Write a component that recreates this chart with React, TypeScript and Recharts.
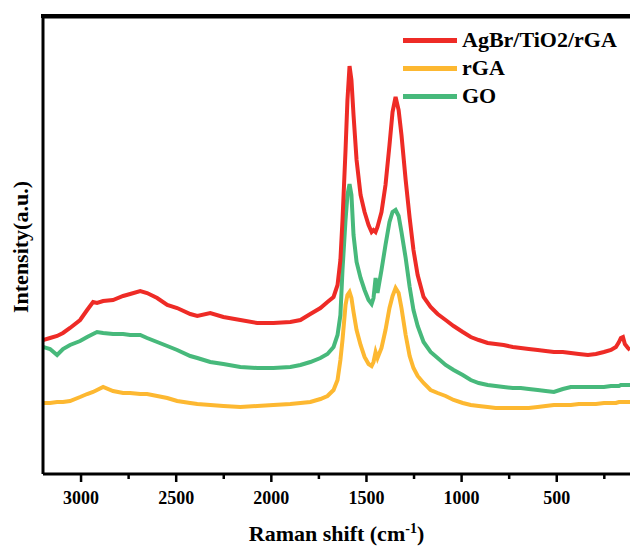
import React from 'react'
import { LineChart, Line, XAxis, YAxis, Legend, Label, ReferenceLine } from 'recharts'

// Raman shift (cm-1) sampled along the trace
const shifts = [
  3200, 3163, 3126, 3095, 3058, 3005, 2968, 2937, 2916, 2884, 2832, 2779, 2742, 2689, 2653,
  2600, 2547, 2495, 2426, 2389, 2321, 2252, 2163, 2074, 1989, 1900, 1847, 1795, 1742, 1705,
  1673, 1652, 1637, 1626, 1610, 1600, 1589, 1579, 1568, 1552, 1531, 1510, 1489, 1473, 1463,
  1452, 1442, 1421, 1400, 1379, 1363, 1347, 1331, 1316, 1294, 1273, 1253, 1231, 1200, 1163,
  1126, 1084, 1042, 994, 952, 910, 863, 821, 779, 731, 689, 647, 600, 558, 515,
  468, 426, 384, 336, 294, 252, 215, 189, 173, 163, 152, 142, 126, 115,
]

// intensities (a.u.)
const agbrTio2Rga = [
  134, 136, 138, 141, 146, 154, 164, 172, 171, 173, 174, 178, 180, 183, 181,
  176, 169, 166, 160, 158, 161, 157, 154, 151, 151, 152, 154, 160, 166, 172,
  177, 189, 214, 254, 324, 374, 408, 394, 359, 314, 279, 262, 249, 242, 244,
  242, 247, 262, 289, 329, 362, 377, 364, 339, 294, 256, 224, 199, 177, 167,
  160, 154, 148, 142, 137, 134, 131, 130, 129, 127, 126, 125, 124, 123, 122,
  122, 121, 120, 119, 120, 122, 124, 127, 132, 136, 137, 130, 126, 124,
]

const rga = [
  71, 71, 72, 72, 73, 77, 80, 82, 84, 87, 83, 81, 81, 80, 80,
  78, 76, 73, 71, 70, 69, 68, 67, 68, 69, 70, 71, 72, 75, 78,
  84, 94, 114, 134, 169, 179, 182, 176, 162, 144, 129, 117, 110, 108, 112,
  122, 116, 126, 144, 166, 178, 186, 181, 166, 139, 118, 106, 98, 91, 84,
  81, 78, 74, 71, 69, 68, 67, 66, 66, 66, 66, 66, 67, 68, 69,
  69, 69, 70, 70, 70, 71, 71, 71, 72, 72, 72, 72, 72, 72,
]

const go = [
  127, 125, 119, 125, 129, 133, 137, 140, 142, 141, 140, 140, 139, 139, 136,
  132, 128, 124, 118, 116, 112, 110, 107, 106, 106, 107, 109, 112, 116, 120,
  127, 139, 159, 204, 254, 279, 290, 279, 239, 212, 196, 184, 174, 170, 176,
  196, 181, 204, 229, 252, 262, 264, 258, 242, 216, 187, 164, 148, 132, 122,
  116, 109, 104, 99, 94, 91, 89, 88, 87, 86, 86, 85, 84, 83, 82,
  85, 87, 87, 87, 87, 87, 88, 88, 88, 89, 89, 89, 89, 89,
]

const majorTicks = [3000, 2500, 2000, 1500, 1000, 500]
const minorTicks = [2750, 2250, 1750, 1250, 750, 250]
const xDomain: [number, number] = [115, 3200]
const yMax = 458

const series = [
  { key: 'agbr', name: 'AgBr/TiO2/rGA', color: '#ee2b26' },
  { key: 'rga', name: 'rGA', color: '#fdb831' },
  { key: 'go', name: 'GO', color: '#47b97b' },
]

const data = shifts.map((shift, i) => ({
  shift,
  agbr: agbrTio2Rga[i],
  rga: rga[i],
  go: go[i],
}))

const serif = "'Liberation Serif', 'Times New Roman', serif"

function LegendBox() {
  return (
    <div>
      {series.map((s) => (
        <div key={s.key} style={{ display: 'flex', alignItems: 'center', height: 28 }}>
          <span style={{ display: 'inline-block', width: 54, height: 5, background: s.color, marginRight: 5 }} />
          <span style={{ fontFamily: serif, fontWeight: 'bold', fontSize: 22, color: '#000', lineHeight: '28px' }}>
            {s.name}
          </span>
        </div>
      ))}
    </div>
  )
}

function AxisTick(props: any) {
  const { x, y, payload } = props
  const major = majorTicks.includes(payload.value)
  return (
    <g>
      <line x1={x} y1={y} x2={x} y2={y + (major ? 8 : 5)} stroke="#000" strokeWidth={2.5} />
      {major && (
        <text x={x} y={y + 30} textAnchor="middle" fontFamily={serif} fontWeight="bold" fontSize={18} fill="#000">
          {payload.value}
        </text>
      )}
    </g>
  )
}

export default function App() {
  return (
    <div style={{ position: 'absolute', left: 0, top: 0, width: 630, height: 546, background: '#fff' }}>
      <LineChart width={630} height={546} data={data} margin={{ top: 16, right: 0, bottom: 0, left: 0 }}>
        <XAxis
          dataKey="shift"
          type="number"
          domain={xDomain}
          reversed
          allowDataOverflow
          ticks={[...majorTicks, ...minorTicks].sort((a, b) => b - a)}
          interval={0}
          height={72}
          tickSize={0}
          tickMargin={0}
          tickLine={false}
          axisLine={{ stroke: '#000', strokeWidth: 3 }}
          tick={<AxisTick />}
        >
          <Label
            content={(props: any) => {
              const vb = props.viewBox || { x: 43, y: 474, width: 587, height: 72 }
              return (
                <text
                  x={vb.x + vb.width / 2}
                  y={vb.y + vb.height - 5}
                  textAnchor="middle"
                  fontFamily={serif}
                  fontWeight="bold"
                  fontSize={22}
                  fill="#000"
                >
                  Raman shift (cm
                  <tspan dy={-8} fontSize={14}>-1</tspan>
                  <tspan dy={8}>)</tspan>
                </text>
              )
            }}
          />
        </XAxis>
        <YAxis
          type="number"
          domain={[0, yMax]}
          width={43}
          tick={false}
          tickLine={false}
          axisLine={{ stroke: '#000', strokeWidth: 3 }}
        >
          <Label
            content={(props: any) => {
              const vb = props.viewBox || { x: 0, y: 16, width: 43, height: 458 }
              const x = vb.x + 28
              const y = vb.y + vb.height / 2 + 2
              return (
                <text
                  x={x}
                  y={y}
                  transform={`rotate(-90, ${x}, ${y})`}
                  textAnchor="middle"
                  fontFamily={serif}
                  fontWeight="bold"
                  fontSize={22}
                  fill="#000"
                >
                  Intensity(a.u.)
                </text>
              )
            }}
          />
        </YAxis>
        {/* top edge of the plot frame */}
        <ReferenceLine y={yMax - 1} stroke="#000" strokeWidth={3} ifOverflow="visible" />
        <Legend
          layout="horizontal"
          verticalAlign="middle"
          align="center"
          content={() => <LegendBox />}
          wrapperStyle={{ position: 'absolute', left: 403, top: 26, width: 227 }}
        />
        <Line dataKey="rga" name="rGA" stroke="#fdb831" strokeWidth={4} dot={false} isAnimationActive={false} />
        <Line dataKey="go" name="GO" stroke="#47b97b" strokeWidth={4} dot={false} isAnimationActive={false} />
        <Line dataKey="agbr" name="AgBr/TiO2/rGA" stroke="#ee2b26" strokeWidth={4} dot={false} isAnimationActive={false} />
      </LineChart>
      <div style={{ position: 'absolute', left: 41, top: 14, width: 589, height: 4, background: '#000', zIndex: 10 }} />
    </div>
  )
}
